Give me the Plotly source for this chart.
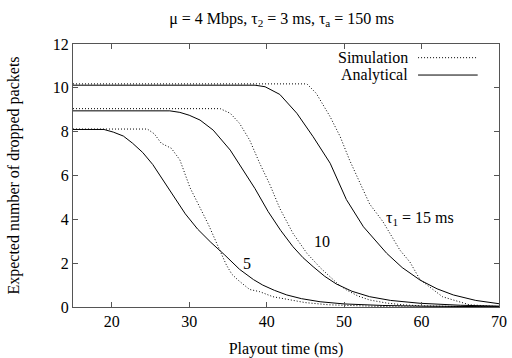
import plotly.graph_objects as go

# Data
a5_x = [15, 19, 20.2, 21.5, 22.7, 24, 25.3, 26.6, 27.9, 29.5, 31.1, 32.8, 34.6, 36.5, 38.3, 39.5, 41, 42.6, 44.5, 46.9, 50, 55, 60, 65, 70]
a5_y = [8.1, 8.1, 7.98, 7.8, 7.47, 7.05, 6.5, 5.8, 5.08, 4.25, 3.55, 2.95, 2.37, 1.72, 1.25, 1.0, 0.76, 0.55, 0.38, 0.24, 0.14, 0.07, 0.04, 0.02, 0.01]
s5_x = [15, 24.6, 25.5, 26.4, 27.7, 28.8, 30.1, 31.4, 32.5, 34.0, 34.8, 35.5, 36.3, 37.8, 39.1, 40.8, 43, 45, 48, 52, 56, 60, 70]
s5_y = [8.12, 8.12, 7.9, 7.47, 7.24, 6.71, 5.45, 4.55, 3.75, 2.55, 1.92, 1.5, 1.23, 0.8, 0.7, 0.47, 0.32, 0.2, 0.1, 0.04, 0.01, 0, 0]
a10_x = [15, 27.5, 28.8, 30, 31.4, 33.1, 35.3, 37.4, 38.5, 40.2, 41.8, 43.4, 44.7, 46, 47.5, 49, 51, 53.3, 56, 59.8, 65, 70]
a10_y = [8.95, 8.95, 8.88, 8.75, 8.53, 8.07, 7.16, 6.0, 5.4, 4.35, 3.5, 2.75, 2.25, 1.84, 1.4, 1.05, 0.72, 0.47, 0.3, 0.17, 0.08, 0.04]
s10_x = [15, 34, 35.3, 36.5, 37.8, 39.1, 40.4, 41.7, 43.4, 45.2, 46.9, 48.2, 49.2, 50.3, 51.8, 53.3, 55.5, 57.6, 60, 65, 70]
s10_y = [9.05, 9.05, 8.84, 8.38, 7.62, 6.56, 5.6, 4.5, 3.36, 2.45, 1.8, 1.38, 1.05, 0.78, 0.5, 0.32, 0.18, 0.1, 0.05, 0.02, 0.01]
a15_x = [15, 38.5, 39.8, 41.7, 43.9, 46, 48.2, 50.3, 52.5, 55.5, 57.5, 59.8, 62, 64.1, 67, 69.7, 70]
a15_y = [10.12, 10.12, 10.05, 9.7, 8.84, 7.77, 6.56, 4.9, 3.66, 2.45, 1.8, 1.23, 0.83, 0.55, 0.3, 0.17, 0.15]
s15_x = [15, 45.2, 46.4, 48.2, 49.5, 50.7, 52, 53.3, 55, 57.2, 58.5, 59.8, 61.1, 62.7, 64.1, 66.2, 70]
s15_y = [10.18, 10.18, 9.75, 8.68, 7.77, 6.71, 5.7, 4.7, 3.9, 2.6, 2.05, 1.25, 0.9, 0.47, 0.32, 0.1, 0.02]

x_ticks = [20, 30, 40, 50, 60, 70]
y_ticks = [0, 2, 4, 6, 8, 10, 12]

FONT = "Liberation Serif, Times New Roman, Times, serif"
FS = 16
DOT = "1px,2px"
fig = go.Figure()
for xs, ys in [(s5_x, s5_y), (s10_x, s10_y), (s15_x, s15_y)]:
    fig.add_trace(go.Scatter(x=xs, y=ys, mode="lines", line=dict(color="black", width=1, dash=DOT), showlegend=False))
for xs, ys in [(a5_x, a5_y), (a10_x, a10_y), (a15_x, a15_y)]:
    fig.add_trace(go.Scatter(x=xs, y=ys, mode="lines", line=dict(color="black", width=1), showlegend=False))

axis_common = dict(showline=True, linecolor="#555", linewidth=1, mirror="ticks", ticks="inside", ticklen=5,
                   tickcolor="#555", showgrid=False, zeroline=False, automargin=False,
                   tickfont=dict(family=FONT, size=FS, color="black"))
fig.update_xaxes(range=[15, 70], tickvals=x_ticks, title=dict(text="Playout time (ms)", font=dict(family=FONT, size=FS, color="black"), standoff=14), **axis_common)
fig.update_yaxes(range=[0, 12], tickvals=y_ticks, title=dict(text="Expected number of dropped packets", font=dict(family=FONT, size=FS, color="black"), standoff=29), **axis_common)

fig.add_annotation(x=37.4, y=2.0, text="5", showarrow=False, font=dict(family=FONT, size=FS, color="black"))
fig.add_annotation(x=47.1, y=2.98, text="10", showarrow=False, font=dict(family=FONT, size=FS, color="black"))
fig.add_annotation(x=59.8, y=4.05, text="τ<sub>1</sub> = 15 ms", showarrow=False, font=dict(family=FONT, size=FS, color="black"))

# legend (gnuplot style: text then sample)
for i, (label, dash) in enumerate([("Simulation", DOT), ("Analytical", "solid")]):
    yp = 0.948 - i * 0.066
    fig.add_annotation(xref="paper", yref="paper", x=0.79, y=yp, xanchor="right", yanchor="middle", text=label,
                       showarrow=False, font=dict(family=FONT, size=FS, color="black"))
    fig.add_shape(type="line", xref="paper", yref="paper", x0=0.81, x1=0.95, y0=yp, y1=yp, line=dict(color="black", width=1, dash=dash))

fig.update_layout(
    width=512, height=358,
    margin=dict(l=73, r=13, t=44, b=51),
    paper_bgcolor="white", plot_bgcolor="white",
    font=dict(family=FONT, size=FS, color="black"),
    title=dict(text="μ = 4 Mbps, τ<sub>2</sub> = 3 ms, τ<sub>a</sub> = 150 ms", x=0.55, xanchor="center", y=0.95, yanchor="middle",
               font=dict(family=FONT, size=FS, color="black")),
)
fig.write_html("out.html", config={"displayModeBar": False},
               post_script="document.body.style.margin='0';document.body.style.padding='0';")
